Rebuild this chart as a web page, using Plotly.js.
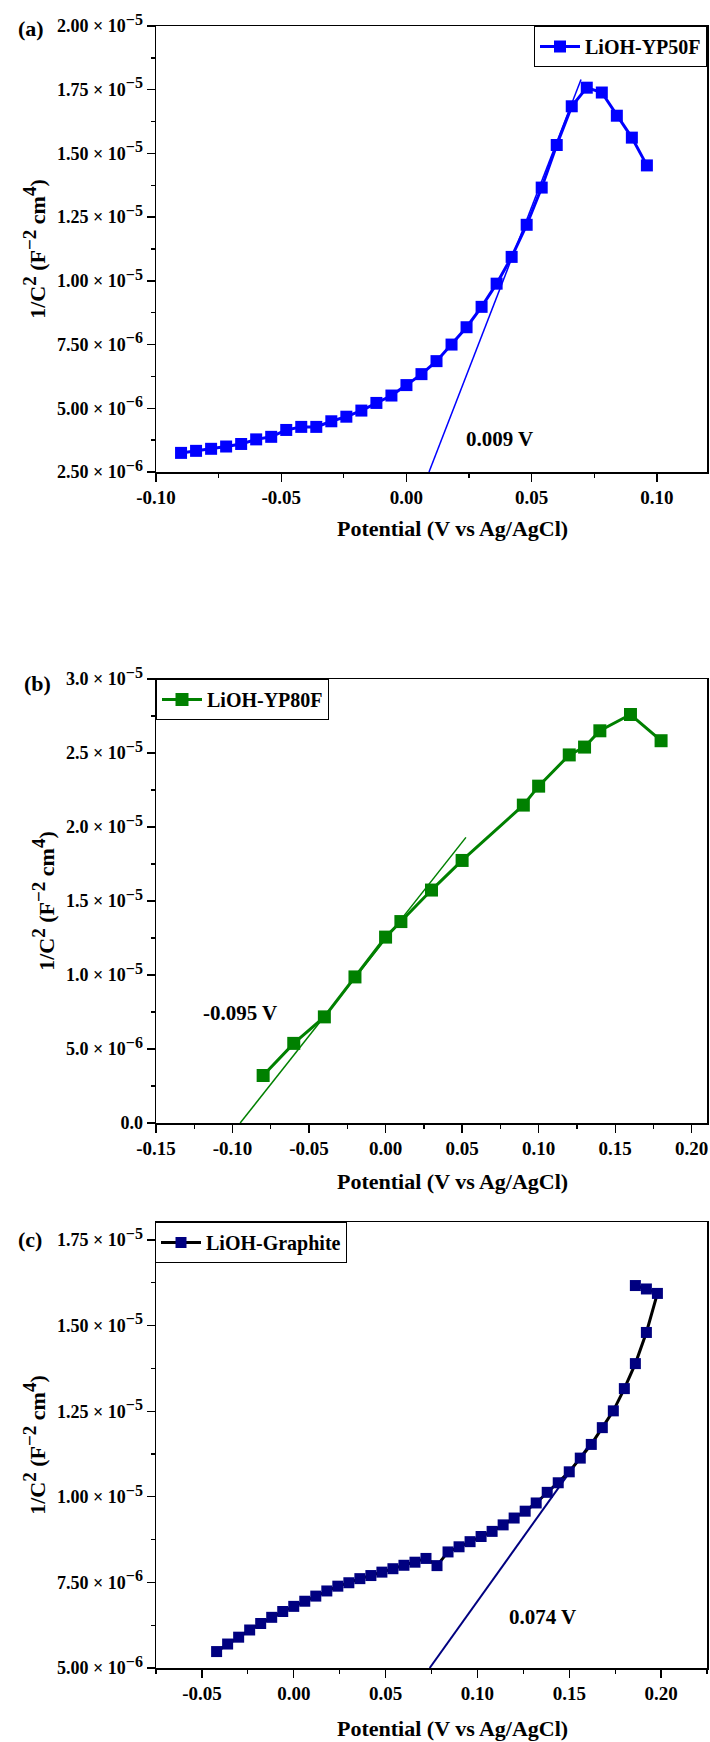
<!DOCTYPE html>
<html>
<head>
<meta charset="utf-8">
<script src="https://cdn.plot.ly/plotly-3.0.1.min.js"></script>
<style>html,body{margin:0;padding:0;background:#fff;}</style>
</head>
<body>
<div id="chart" style="width:710px;height:1742px;"></div>
<script>
// ---------- Data ----------
// (a) LiOH-YP50F
const potentialA = [-0.090,-0.084,-0.078,-0.072,-0.066,-0.060,-0.054,-0.048,-0.042,-0.036,-0.030,-0.024,-0.018,-0.012,-0.006,0.000,0.006,0.012,0.018,0.024,0.030,0.036,0.042,0.048,0.054,0.060,0.066,0.072,0.078,0.084,0.090,0.096];
const invC2A = [3.25e-6,3.33e-6,3.41e-6,3.50e-6,3.60e-6,3.78e-6,3.88e-6,4.15e-6,4.27e-6,4.27e-6,4.49e-6,4.67e-6,4.91e-6,5.21e-6,5.50e-6,5.91e-6,6.34e-6,6.85e-6,7.50e-6,8.18e-6,8.98e-6,9.89e-6,10.94e-6,12.20e-6,13.66e-6,15.33e-6,16.85e-6,17.58e-6,17.39e-6,16.48e-6,15.62e-6,14.53e-6];
const fitXA = [0.009, 0.0697];
const fitYA = [2.5e-6, 1.79e-5];

// (b) LiOH-YP80F
const potentialB = [-0.08,-0.06,-0.04,-0.02,0.00,0.01,0.03,0.05,0.09,0.10,0.12,0.13,0.14,0.16,0.18];
const invC2B = [3.21e-6,5.38e-6,7.17e-6,9.87e-6,12.56e-6,13.61e-6,15.74e-6,17.74e-6,21.48e-6,22.76e-6,24.87e-6,25.40e-6,26.50e-6,27.60e-6,25.83e-6];
const fitXB = [-0.095, 0.0525];
const fitYB = [0, 1.93e-5];

// (c) LiOH-Graphite
const potentialC = [-0.042,-0.036,-0.030,-0.024,-0.018,-0.012,-0.006,0.000,0.006,0.012,0.018,0.024,0.030,0.036,0.042,0.048,0.054,0.060,0.066,0.072,0.078,0.084,0.090,0.096,0.102,0.108,0.114,0.120,0.126,0.132,0.138,0.144,0.150,0.156,0.162,0.168,0.174,0.180,0.186,0.192,0.198,0.192,0.186];
const invC2C = [5.48e-6,5.70e-6,5.90e-6,6.11e-6,6.30e-6,6.48e-6,6.65e-6,6.80e-6,6.95e-6,7.10e-6,7.25e-6,7.39e-6,7.49e-6,7.61e-6,7.70e-6,7.80e-6,7.90e-6,8.00e-6,8.09e-6,8.20e-6,7.99e-6,8.39e-6,8.54e-6,8.69e-6,8.84e-6,8.99e-6,9.18e-6,9.38e-6,9.58e-6,9.82e-6,10.13e-6,10.41e-6,10.73e-6,11.13e-6,11.53e-6,12.02e-6,12.51e-6,13.16e-6,13.89e-6,14.80e-6,15.94e-6,16.07e-6,16.17e-6];
const fitXC = [0.074, 0.160];
const fitYC = [5.0e-6, 1.145e-5];

// Tick values / labels
function sup(t, px){ return '<sup><span style="font-size:' + px + 'px">' + t + '</span></sup>'; }
function sci(m, e){ return m + ' × 10' + sup('−' + e, 16); }

const xTickValsA = [-0.10,-0.05,0.00,0.05,0.10];
const xTickTextA = ["-0.10","-0.05","0.00","0.05","0.10"];
const xMinorA = [-0.075,-0.025,0.025,0.075,0.125];
const yTickValsA = [2.5e-6,5.0e-6,7.5e-6,1.0e-5,1.25e-5,1.5e-5,1.75e-5,2.0e-5];
const yTickTextA = [sci("2.50",6),sci("5.00",6),sci("7.50",6),sci("1.00",5),sci("1.25",5),sci("1.50",5),sci("1.75",5),sci("2.00",5)];
const yMinorA = [3.75e-6,6.25e-6,8.75e-6,1.125e-5,1.375e-5,1.625e-5,1.875e-5];

const xTickValsB = [-0.15,-0.10,-0.05,0.00,0.05,0.10,0.15,0.20];
const xTickTextB = ["-0.15","-0.10","-0.05","0.00","0.05","0.10","0.15","0.20"];
const xMinorB = [-0.125,-0.075,-0.025,0.025,0.075,0.125,0.175];
const yTickValsB = [0,5e-6,1.0e-5,1.5e-5,2.0e-5,2.5e-5,3.0e-5];
const yTickTextB = ["0.0",sci("5.0",6),sci("1.0",5),sci("1.5",5),sci("2.0",5),sci("2.5",5),sci("3.0",5)];
const yMinorB = [2.5e-6,7.5e-6,1.25e-5,1.75e-5,2.25e-5,2.75e-5];

const xTickValsC = [-0.05,0.00,0.05,0.10,0.15,0.20];
const xTickTextC = ["-0.05","0.00","0.05","0.10","0.15","0.20"];
const xMinorC = [-0.075,-0.025,0.025,0.075,0.125,0.175,0.225];
const yTickValsC = [5.0e-6,7.5e-6,1.0e-5,1.25e-5,1.5e-5,1.75e-5];
const yTickTextC = [sci("5.00",6),sci("7.50",6),sci("1.00",5),sci("1.25",5),sci("1.50",5),sci("1.75",5)];
const yMinorC = [6.25e-6,8.75e-6,1.125e-5,1.375e-5,1.625e-5];

// ---------- Layout helpers ----------
const W = 710, H = 1742;
const FONT = "Liberation Serif, Times New Roman, serif";
function ydom(topPx, botPx){ return [(H-botPx)/H, (H-topPx)/H]; }
const xdom = [156/W, 707/W];
const yTitle = '1/C' + sup('2', 19) + ' (F' + sup('−2', 19) + ' cm' + sup('4', 19) + ')';

function xax(anchor, range, tv, tt, minor){
  return {
    anchor: anchor, domain: xdom, range: range,
    tickmode: 'array', tickvals: tv, ticktext: tt,
    ticks: 'outside', ticklen: 8, tickwidth: 1.3, tickcolor: '#000',
    minor: {tickmode: 'array', tickvals: minor, ticks: 'outside', ticklen: 4, tickwidth: 1.3, tickcolor: '#000'},
    showline: true, linecolor: '#000', linewidth: 1.5, mirror: true,
    showgrid: false, zeroline: false,
    tickfont: {family: FONT, size: 19, color: '#000', weight: 'bold'}
  };
}
function yax(anchor, dom, range, tv, tt, minor){
  return {
    anchor: anchor, domain: dom, range: range,
    tickmode: 'array', tickvals: tv, ticktext: tt,
    ticks: 'outside', ticklen: 8, tickwidth: 1.3, tickcolor: '#000',
    minor: {tickmode: 'array', tickvals: minor, ticks: 'outside', ticklen: 4, tickwidth: 1.3, tickcolor: '#000'},
    showline: true, linecolor: '#000', linewidth: 1.5, mirror: true,
    showgrid: false, zeroline: false, automargin: false,
    tickfont: {family: FONT, size: 18, color: '#000', weight: 'bold'},
    title: {text: yTitle, font: {family: FONT, size: 22, color: '#000', weight: 'bold'}, standoff: 5}
  };
}
function legendBox(x, y, xanchor){
  return {
    x: x, y: y, xanchor: xanchor, yanchor: 'top',
    bgcolor: '#fff', bordercolor: '#000', borderwidth: 1,
    font: {family: FONT, size: 20, color: '#000', weight: 'bold'},
    itemwidth: 40, tracegroupgap: 0
  };
}

const traces = [
  {x: fitXA, y: fitYA, xaxis: 'x', yaxis: 'y', mode: 'lines', line: {color: '#0000FF', width: 1.5}, showlegend: false, hoverinfo: 'skip'},
  {x: potentialA, y: invC2A, xaxis: 'x', yaxis: 'y', mode: 'lines+markers', name: 'LiOH-YP50F', legend: 'legend',
   line: {color: '#0000FF', width: 3}, marker: {symbol: 'square', size: 12, color: '#0000FF'}},
  {x: fitXB, y: fitYB, xaxis: 'x2', yaxis: 'y2', mode: 'lines', line: {color: '#008000', width: 1.5}, showlegend: false, hoverinfo: 'skip'},
  {x: potentialB, y: invC2B, xaxis: 'x2', yaxis: 'y2', mode: 'lines+markers', name: 'LiOH-YP80F', legend: 'legend2',
   line: {color: '#008000', width: 3}, marker: {symbol: 'square', size: 13, color: '#008000'}},
  {x: fitXC, y: fitYC, xaxis: 'x3', yaxis: 'y3', mode: 'lines', line: {color: '#000080', width: 2}, showlegend: false, hoverinfo: 'skip'},
  {x: potentialC, y: invC2C, xaxis: 'x3', yaxis: 'y3', mode: 'lines+markers', name: 'LiOH-Graphite', legend: 'legend3',
   line: {color: '#000000', width: 3}, marker: {symbol: 'square', size: 11, color: '#000080'}}
];

function ann(text, x, y, xref, yref, size, extra){
  return Object.assign({text: text, x: x, y: y, xref: xref, yref: yref, showarrow: false,
    font: {family: FONT, size: size, color: '#000', weight: 'bold'}}, extra || {});
}

const layout = {
  width: W, height: H,
  margin: {l: 0, r: 0, t: 0, b: 0},
  paper_bgcolor: '#fff', plot_bgcolor: '#fff',
  font: {family: FONT, color: '#000', weight: 'bold'},
  showlegend: true,
  xaxis: xax('y', [-0.10, 0.12], xTickValsA, xTickTextA, xMinorA),
  yaxis: yax('x', ydom(26, 472), [2.5e-6, 2.0e-5], yTickValsA, yTickTextA, yMinorA),
  xaxis2: xax('y2', [-0.15, 0.21], xTickValsB, xTickTextB, xMinorB),
  yaxis2: yax('x2', ydom(679, 1123), [0, 3.0e-5], yTickValsB, yTickTextB, yMinorB),
  xaxis3: xax('y3', [-0.075, 0.225], xTickValsC, xTickTextC, xMinorC),
  yaxis3: yax('x3', ydom(1222, 1668), [5.0e-6, 1.8026e-5], yTickValsC, yTickTextC, yMinorC),
  legend: legendBox(707/W, 1 - 26/H, 'right'),
  legend2: legendBox(156/W, 1 - 679/H, 'left'),
  legend3: legendBox(155/W, 1 - 1222/H, 'left'),
  annotations: [
    ann('Potential (V vs Ag/AgCl)', 452/W, 1 - 528/H, 'paper', 'paper', 22, {xanchor: 'center', yanchor: 'middle'}),
    ann('Potential (V vs Ag/AgCl)', 452/W, 1 - 1181/H, 'paper', 'paper', 22, {xanchor: 'center', yanchor: 'middle'}),
    ann('Potential (V vs Ag/AgCl)', 452/W, 1 - 1728/H, 'paper', 'paper', 22, {xanchor: 'center', yanchor: 'middle'}),
    ann('(a)', 16/W, 1 - 29/H, 'paper', 'paper', 22, {xanchor: 'left', yanchor: 'middle'}),
    ann('(b)', 22/W, 1 - 684/H, 'paper', 'paper', 22, {xanchor: 'left', yanchor: 'middle'}),
    ann('(c)', 16/W, 1 - 1239/H, 'paper', 'paper', 22, {xanchor: 'left', yanchor: 'middle'}),
    ann('0.009 V', 0.0373, 3.8e-6, 'x', 'y', 21, {xanchor: 'center', yanchor: 'middle'}),
    ann('-0.095 V', -0.095, 7.4e-6, 'x2', 'y2', 21, {xanchor: 'center', yanchor: 'middle'}),
    ann('0.074 V', 0.1357, 6.49e-6, 'x3', 'y3', 21, {xanchor: 'center', yanchor: 'middle'})
  ]
};

Plotly.newPlot('chart', traces, layout, {staticPlot: true, displayModeBar: false});
</script>
</body>
</html>
